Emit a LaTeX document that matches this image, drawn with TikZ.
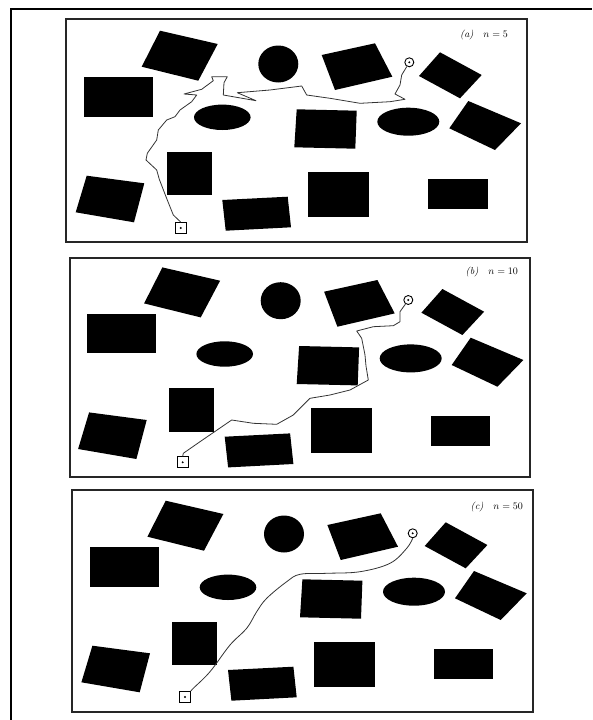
\documentclass[tikz,border=0pt]{standalone}
\usetikzlibrary{calc}

% obstacle field, drawn in the coordinates of panel (a)
\newcommand\obstaclefield{%
  \fill[obstacle] (160,30.7) -- (217.7,44) -- (198.3,80.7) -- (141.7,66.7) -- cycle;
  \fill[obstacle] (278.3,64) ellipse [x radius=20pt,y radius=18.5pt];
  \fill[obstacle] (321.7,55) -- (375,43.3) -- (392.3,76.7) -- (335,90) -- cycle;
  \fill[obstacle] (440,52.3) -- (481.7,75) -- (460,98.3) -- (419,76) -- cycle;
  \fill[obstacle] (84.3,77.3) rectangle (153.3,116.7);
  \fill[obstacle] (222.3,117.3) ellipse [x radius=28.3pt,y radius=12.7pt];
  \fill[obstacle] (296.7,109.3) -- (356.7,110.7) -- (355.3,148.7) -- (294.3,147.3) -- cycle;
  \fill[obstacle] (408.3,121.7) ellipse [x radius=31pt,y radius=14pt];
  \fill[obstacle] (468.3,101) -- (521,123.3) -- (495,150) -- (449.3,128.3) -- cycle;
  \fill[obstacle] (166.7,151.7) rectangle (211.7,195);
  \fill[obstacle] (86.7,175.7) -- (144.3,183.3) -- (134,222.3) -- (75.7,212.3) -- cycle;
  \fill[obstacle] (222.3,200) -- (287.7,196.7) -- (291,227.3) -- (225.7,230.7) -- cycle;
  \fill[obstacle] (308.3,171.7) rectangle (369.3,216.7);
  \fill[obstacle] (428.3,179.3) rectangle (487.7,209);
}

\begin{document}
\begin{tikzpicture}[
  x=1pt,y=-1pt,
  obstacle/.style={fill=black},
  outerframe/.style={draw,line width=1.3pt},
  panelframe/.style={draw,line width=1.2pt,black!85},
  trail/.style={draw=black!80,line width=0.8pt,line join=round},
  startmark/.style={draw,line width=0.9pt,minimum size=11pt,inner sep=0pt},
  goalmark/.style={draw,circle,line width=0.9pt,minimum size=9pt,inner sep=0pt},
  tag/.style={font=\normalsize\itshape,inner sep=1pt,anchor=east}
]
\useasboundingbox (0,0) rectangle (592,720);

% ===== Outer Frame =====
\draw[outerframe] (11,720) -- (11,9) -- (592,9);

% ===== Panel Frames =====
\draw[panelframe] (66,19) rectangle (527,242);
\draw[panelframe] (70,258) rectangle (530,477);
\draw[panelframe] (72,490) rectangle (533,712);

% ===== Obstacles =====
\begin{scope}\obstaclefield\end{scope}
\begin{scope}[shift={(2.4,236.7)}]\obstaclefield\end{scope}
\begin{scope}[shift={(5.7,470)}]\obstaclefield\end{scope}

% ===== Start / Goal =====
\node[startmark] (sA) at (180.7,228) {};
\node[goalmark] (gA) at (409.3,62.3) {};
\node[startmark] (sB) at (182.7,462.3) {};
\node[goalmark] (gB) at (408.3,300) {};
\node[startmark] (sC) at (185,697) {};
\node[goalmark] (gC) at (412.7,533.3) {};
\foreach \m in {sA,gA,sB,gB,sC,gC}
  \fill (\m.center) circle (1.1pt);

% ===== Labels =====
\node[tag] (tA) at (509,35) {(a)\quad $n=5$};
\node[tag] (tB) at (519,272) {(b)\quad $n=10$};
\node[tag] (tC) at (524,506.5) {(c)\quad $n=50$};

% ===== Paths =====
\draw[trail] (sA.north) -- (173.3,215) -- (166,196.7) -- (159.3,179.3) -- (156.7,170)
  -- (146,160) -- (147.3,153.3) -- (156.7,140) -- (158.3,130) -- (166.7,120)
  -- (175,116.7) -- (180,110) -- (191.7,101.7) -- (196.7,95) -- (184,94)
  -- (201.7,89.3) -- (213.3,80.7) -- (211.7,76.7) -- (227.3,76.7) -- (224,82.7)
  -- (223.3,95) -- (256,100.7) -- (237.3,92.7) -- (270,90) -- (301.7,86)
  -- (306.7,95) -- (330,98.3) -- (360,103.3) -- (390,101.7) -- (405,99.3)
  -- (395,94) -- (400,85) -- (401.7,75) -- (406.7,66.7) -- (gA);
\draw[trail] (sB.north) -- (183.3,453.3) -- (200,441.7) -- (231.7,420) -- (253.3,423.3)
  -- (276.7,424.3) -- (293.3,415) -- (310,398.3) -- (330,395) -- (350,390)
  -- (368.3,380) -- (366,366) -- (365,355) -- (361.7,338.3) -- (356.7,331)
  -- (373.3,326.7) -- (393.3,325.7) -- (400,321.7) -- (400,311.7) -- (gB);
\draw[trail] plot[smooth,tension=0.6] coordinates {(sC.north east) (193.3,688.3) (210,671.7)
  (230,645) (246.7,628.3) (256.7,611.7) (266.7,598.3) (286.7,581.7) (300,574.3)
  (326.7,573.3) (360,571.7) (390,563.3) (406.7,548.3) (gC.south)};

\end{tikzpicture}
\end{document}
